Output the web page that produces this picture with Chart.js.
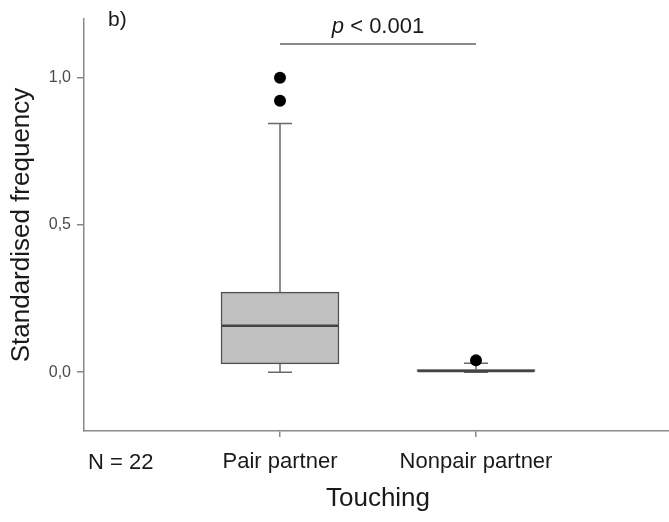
<!DOCTYPE html>
<html><head><meta charset="utf-8">
<script src="https://cdn.jsdelivr.net/npm/chart.js@4/dist/chart.umd.min.js"></script>
<style>html,body{margin:0;padding:0;background:#fff;overflow:hidden;}#wrap{width:678px;height:522px;}</style>
</head><body><div id="wrap"><canvas id="c" width="678" height="522"></canvas></div>
<script>
// ---- data ----
const categories = ['Pair partner', 'Nonpair partner'];
const categoryPos = [1, 2];
const whiskerLow = [0.0, 0.0];
const q1 = [0.028, 0.0];
const median = [0.158, 0.004];
const q3 = [0.272, 0.009];
const whiskerHigh = [0.845, 0.03];
const outliersPair = [1.0, 0.922];
const outliersNonpair = [0.04];
const yTicks = [0, 0.5, 1.0];
const yTickLabels = ['0,0', '0,5', '1,0'];
const sampleLabel = 'N = 22';
const sigLabelItalic = 'p';
const sigLabelRest = ' < 0.001';
const sigY = 1.115;
const panelLabel = 'b)';
const xTitle = 'Touching';
const yTitle = 'Standardised frequency';

const FONT = '"Liberation Sans", Arial, sans-serif';

const extras = {
  id: 'extras',
  beforeDatasetsDraw(chart) {
    const {ctx, scales: {x, y}} = chart;
    ctx.save();
    ctx.strokeStyle = '#6a6a6a';
    ctx.lineWidth = 1.5;
    categoryPos.forEach((p, i) => {
      const px = x.getPixelForValue(p);
      const capHalf = 12;
      ctx.beginPath();
      ctx.moveTo(px, y.getPixelForValue(q3[i]));
      ctx.lineTo(px, y.getPixelForValue(whiskerHigh[i]));
      ctx.moveTo(px - capHalf, y.getPixelForValue(whiskerHigh[i]));
      ctx.lineTo(px + capHalf, y.getPixelForValue(whiskerHigh[i]));
      ctx.moveTo(px, y.getPixelForValue(q1[i]));
      ctx.lineTo(px, y.getPixelForValue(whiskerLow[i]));
      ctx.moveTo(px - capHalf, y.getPixelForValue(whiskerLow[i]));
      ctx.lineTo(px + capHalf, y.getPixelForValue(whiskerLow[i]));
      ctx.stroke();
    });
    ctx.restore();
  },
  afterDatasetsDraw(chart) {
    const {ctx, scales: {x, y}, chartArea} = chart;
    ctx.save();
    // medians
    ctx.strokeStyle = '#444';
    ctx.lineWidth = 2.5;
    categoryPos.forEach((p, i) => {
      const px = x.getPixelForValue(p);
      const py = y.getPixelForValue(median[i]);
      ctx.beginPath();
      ctx.moveTo(px - 58, py);
      ctx.lineTo(px + 58, py);
      ctx.stroke();
    });
    // significance bar
    const sy = y.getPixelForValue(sigY);
    const x1 = x.getPixelForValue(categoryPos[0]);
    const x2 = x.getPixelForValue(categoryPos[1]);
    ctx.strokeStyle = '#8a8a8a';
    ctx.lineWidth = 2;
    ctx.beginPath();
    ctx.moveTo(x1, sy);
    ctx.lineTo(x2, sy);
    ctx.stroke();
    // p label
    ctx.fillStyle = '#1a1a1a';
    ctx.textBaseline = 'alphabetic';
    ctx.textAlign = 'left';
    const fi = 'italic 22px ' + FONT;
    const fn = '22px ' + FONT;
    ctx.font = fi; const w1 = ctx.measureText(sigLabelItalic).width;
    ctx.font = fn; const w2 = ctx.measureText(sigLabelRest).width;
    const cx = (x1 + x2) / 2;
    const startX = cx - (w1 + w2) / 2;
    ctx.font = fi; ctx.fillText(sigLabelItalic, startX, sy - 11);
    ctx.font = fn; ctx.fillText(sigLabelRest, startX + w1, sy - 11);
    // panel label
    ctx.font = '21px ' + FONT;
    ctx.fillText(panelLabel, chartArea.left + 24, chartArea.top + 7);
    // N label
    ctx.font = '22px ' + FONT;
    ctx.fillText(sampleLabel, chartArea.left + 4, x.top + 38);
    ctx.restore();
  }
};

new Chart(document.getElementById('c'), {
  type: 'bar',
  data: {
    datasets: [
      {
        type: 'scatter',
        data: outliersPair.map(v => ({x: categoryPos[0], y: v}))
          .concat(outliersNonpair.map(v => ({x: categoryPos[1], y: v}))),
        pointRadius: 6,
        pointBackgroundColor: '#000',
        pointBorderWidth: 0,
        order: 0
      },
      {
        type: 'bar',
        data: categoryPos.map((p, i) => ({x: p, y: [q1[i], q3[i]]})),
        barThickness: 118,
        backgroundColor: '#c0c0c0',
        borderColor: '#505050',
        borderWidth: 1.5,
        borderSkipped: false,
        order: 1
      }
    ]
  },
  options: {
    responsive: false,
    animation: false,
    devicePixelRatio: 1,
    layout: {padding: {top: 19, left: 0, right: 0, bottom: 0}},
    plugins: {legend: {display: false}, tooltip: {enabled: false}},
    scales: {
      x: {
        type: 'linear',
        min: 0, max: 3,
        offset: false,
        afterFit(s) { s.height = 91; },
        afterBuildTicks(s) { s.ticks = categoryPos.map(v => ({value: v})); },
        grid: {offset: false, drawOnChartArea: false, drawTicks: true, tickLength: 6, color: '#8a8a8a', lineWidth: 1.5},
        border: {color: '#8a8a8a', width: 1.5},
        ticks: {
          autoSkip: false, maxRotation: 0, padding: 12,
          color: '#1a1a1a', font: {family: FONT, size: 22},
          callback: v => categories[categoryPos.indexOf(v)]
        },
        title: {display: true, text: xTitle, color: '#1a1a1a', font: {family: FONT, size: 26}, padding: {top: 0, bottom: 8}}
      },
      y: {
        type: 'linear',
        min: -0.2, max: 1.2,
        afterFit(s) { s.width = 84; },
        afterBuildTicks(s) { s.ticks = yTicks.map(v => ({value: v})); },
        grid: {drawOnChartArea: false, drawTicks: true, tickLength: 7, color: '#8a8a8a', lineWidth: 1.5},
        border: {color: '#8a8a8a', width: 1.5},
        ticks: {
          padding: 6, color: '#4a4a4a', font: {family: FONT, size: 16},
          callback: v => yTickLabels[yTicks.indexOf(v)]
        },
        title: {display: true, text: yTitle, color: '#1a1a1a', font: {family: FONT, size: 26}, padding: {top: 6, bottom: 0}}
      }
    }
  },
  plugins: [extras]
});
</script>
</body></html>
